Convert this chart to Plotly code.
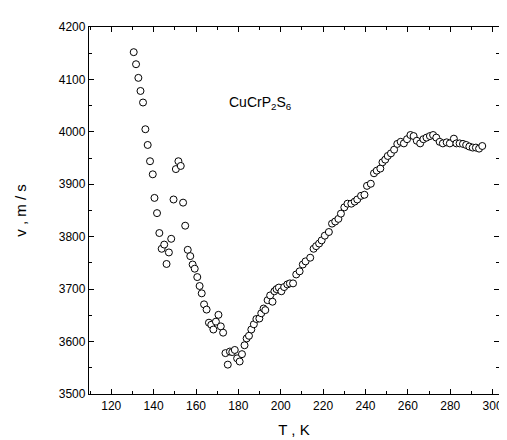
import plotly.graph_objects as go

# температура, K
T = [130.6, 131.7, 132.8, 133.8, 135.0, 136.1, 137.2, 138.3, 139.6, 140.4,
     141.6, 142.7, 143.8, 145.0, 146.1, 147.2, 148.3, 149.4, 150.5, 151.7,
     152.8, 153.9, 154.9, 156.1, 157.3, 158.4, 159.4, 160.6, 161.7, 162.7,
     163.8, 165.0, 166.1, 167.2, 168.2, 169.4, 170.6, 171.7, 172.8, 173.9,
     175.0, 176.0, 177.1, 178.3, 179.4, 180.6, 181.7, 182.9, 183.9, 185.0,
     186.1, 187.3, 188.5, 189.9, 190.8, 191.9, 192.7, 193.8, 195.0, 196.1,
     197.0, 198.0, 199.1, 200.3, 201.6, 203.1, 204.3, 205.8, 207.3, 208.9,
     210.4, 211.7, 213.9, 215.5, 216.7, 218.1, 219.3, 220.8, 222.7, 224.2,
     225.7, 227.2, 228.4, 230.0, 231.5, 233.3, 234.9, 236.1, 237.9, 239.5,
     240.7, 242.5, 244.0, 245.3, 247.0, 248.0, 249.3, 250.5, 252.0, 253.5,
     255.0, 256.6, 258.1, 259.6, 261.2, 262.7, 264.2, 265.8, 267.3, 268.8,
     270.4, 271.9, 273.4, 275.0, 276.5, 278.3, 279.8, 281.7, 282.9, 284.4,
     286.0, 287.5, 289.0, 290.6, 292.1, 293.6, 295.1]

# скорость звука, m/s
v = [4152, 4129, 4103, 4078, 4056, 4005, 3975, 3944, 3919, 3874,
     3845, 3807, 3777, 3785, 3748, 3770, 3796, 3871, 3929, 3944,
     3935, 3865, 3821, 3775, 3763, 3747, 3739, 3723, 3706, 3692,
     3671, 3661, 3636, 3632, 3623, 3638, 3651, 3629, 3617, 3578,
     3556, 3581, 3580, 3584, 3568, 3562, 3576, 3593, 3606, 3611,
     3623, 3633, 3643, 3644, 3654, 3663, 3660, 3679, 3688, 3676,
     3696, 3700, 3703, 3696, 3704, 3709, 3711, 3711, 3728, 3734,
     3747, 3753, 3760, 3777, 3782, 3787, 3793, 3802, 3809, 3825,
     3829, 3834, 3844, 3856, 3863, 3863, 3867, 3871, 3878, 3880,
     3897, 3901, 3921, 3926, 3930, 3942, 3947, 3954, 3959, 3966,
     3977, 3981, 3978, 3986, 3994, 3992, 3983, 3978, 3986, 3989,
     3992, 3994, 3989, 3981, 3978, 3980, 3978, 3987, 3978, 3978,
     3977, 3975, 3972, 3970, 3970, 3968, 3973]

x_ticks = [120, 140, 160, 180, 200, 220, 240, 260, 280, 300]
y_ticks = [3500, 3600, 3700, 3800, 3900, 4000, 4100, 4200]

fig = go.Figure()

fig.add_trace(go.Scatter(
    x=T,
    y=v,
    mode="markers",
    marker=dict(symbol="circle", size=7, color="white",
                line=dict(width=1, color="black")),
    showlegend=False
))

axis_common = dict(
    showline=True, linecolor="black", linewidth=1.3, mirror="allticks",
    ticks="inside", ticklen=5, tickwidth=1, tickcolor="black",
    showgrid=False, zeroline=False,
    tickfont=dict(family="Liberation Sans, Arial", size=12, color="black"),
)

fig.update_xaxes(
    range=[109.5, 303], tickvals=x_ticks,
    minor=dict(ticks="inside", dtick=10, ticklen=3, tickcolor="black"),
    title=dict(text="T , K", font=dict(family="Liberation Sans, Arial", size=15, color="black"),
               standoff=12),
    **axis_common
)
fig.update_yaxes(
    range=[3500, 4200], tickvals=y_ticks,
    minor=dict(ticks="inside", dtick=50, ticklen=3, tickcolor="black"),
    title=dict(text="v , m / s", font=dict(family="Liberation Sans, Arial", size=15, color="black"),
               standoff=28),
    **axis_common
)

fig.update_layout(
    width=507, height=440,
    margin=dict(l=72, r=13, t=17, b=54),
    plot_bgcolor="white",
    paper_bgcolor="white",
    annotations=[dict(
        x=174.5, y=4055, xref="x", yref="y",
        text="CuCrP<sub>2</sub>S<sub>6</sub>",
        showarrow=False, xanchor="left", yanchor="middle",
        font=dict(family="Liberation Sans, Arial", size=14, color="black")
    )]
)

fig.write_html("out.html")
